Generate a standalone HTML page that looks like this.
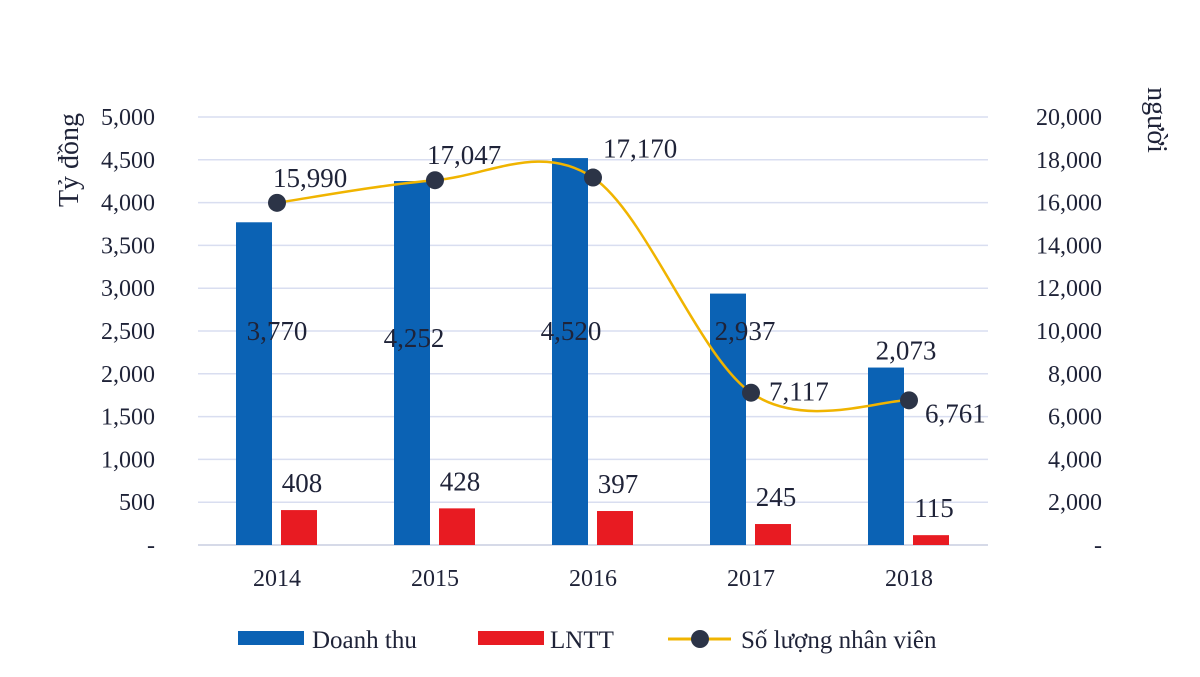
<!DOCTYPE html>
<html><head><meta charset="utf-8"><style>
body{margin:0;background:#fff;}
svg text{font-family:"Liberation Serif",serif;fill:#1f2338;}
</style></head><body>
<svg width="1200" height="672" viewBox="0 0 1200 672">
<g id="grid"></g><g id="bars"></g><g id="line"></g><g id="labels"></g>
<text transform="translate(78,160) rotate(-90)" text-anchor="middle" font-size="28">Tỷ đồng</text>
<text transform="translate(1148,120) rotate(90)" text-anchor="middle" font-size="28">người</text>
<g>
<rect x="238" y="631" width="66" height="14" fill="#0b62b4"/>
<text x="312" y="648" font-size="25">Doanh thu</text>
<rect x="478" y="631" width="66" height="14" fill="#e81b22"/>
<text x="550" y="648" font-size="25">LNTT</text>
<line x1="668" y1="639" x2="731" y2="639" stroke="#f0b400" stroke-width="3"/>
<circle cx="700" cy="639" r="9" fill="#2c3447"/>
<text x="741" y="648" font-size="25">Số lượng nhân viên</text>
</g>
</svg>
<script>
const years=["2014","2015","2016","2017","2018"];
const revenue=[3770,4252,4520,2937,2073];
const profit=[408,428,397,245,115];
const staff=[15990,17047,17170,7117,6761];
const leftTicks=[0,500,1000,1500,2000,2500,3000,3500,4000,4500,5000];
const rightTicks=[0,2000,4000,6000,8000,10000,12000,14000,16000,18000,20000];
const NS="http://www.w3.org/2000/svg";
const base=545, yTop=117, x0=198, step=158;
const yL=v=>base-(v/5000)*(base-yTop);
const yR=v=>base-(v/20000)*(base-yTop);
const cx=i=>x0+step*i+step/2;
function mk(tag,attrs,parent,txt){const e=document.createElementNS(NS,tag);for(const k in attrs)e.setAttribute(k,attrs[k]);if(txt!==undefined)e.textContent=txt;document.getElementById(parent).appendChild(e);return e;}
const fmt=v=>v===0?"-":v.toLocaleString("en-US");
leftTicks.forEach(t=>{
 const g=mk("line",{x1:x0,x2:x0+step*5,y1:yL(t),y2:yL(t),stroke:t===0?"#c8cde0":"#d9def0","stroke-width":1.5},"grid");
 
 
 const l=mk("text",{x:155,y:yL(t)+8,"text-anchor":"end","font-size":24},"grid",fmt(t));
 
 
});
rightTicks.forEach(t=>{
 const l=mk("text",{x:1102,y:yR(t)+8,"text-anchor":"end","font-size":24},"grid",fmt(t));
 
 
});
// label placement offsets (layout only)
const revDx=[0,-21,-22,-6,-3];
const revY=[340,347,340,340,null];
const staffDx=[-4,-8,10,18,16];
const staffDy=[-16,-16,-20,8,22];
years.forEach((y,i)=>{
 const c=cx(i);
 const b=mk("rect",{x:c-41,y:yL(revenue[i]),width:36,height:base-yL(revenue[i]),fill:"#0b62b4"},"bars");
 
 
 const r=mk("rect",{x:c+4,y:yL(profit[i]),width:36,height:base-yL(profit[i]),fill:"#e81b22"},"bars");
 
 
 const xl=mk("text",{x:c,y:586,"text-anchor":"middle","font-size":24},"labels",y);
 
 
 const ry=revY[i]===null?yL(revenue[i])-8:revY[i];
 const rl=mk("text",{x:c+revDx[i],y:ry,"text-anchor":"middle","font-size":27},"labels",fmt(revenue[i]));
 
 
 const pl=mk("text",{x:c+25,y:yL(profit[i])-18,"text-anchor":"middle","font-size":27},"labels",fmt(profit[i]));
 
 
});
const pts=staff.map((v,i)=>[cx(i),yR(v)]);
let d="M"+pts[0][0]+","+pts[0][1];
for(let i=0;i<pts.length-1;i++){
 const p0=pts[Math.max(i-1,0)],p1=pts[i],p2=pts[i+1],p3=pts[Math.min(i+2,pts.length-1)];
 const t=1/6;
 d+=` C${p1[0]+(p2[0]-p0[0])*t},${p1[1]+(p2[1]-p0[1])*t} ${p2[0]-(p3[0]-p1[0])*t},${p2[1]-(p3[1]-p1[1])*t} ${p2[0]},${p2[1]}`;
}
const ln=mk("path",{d:d,fill:"none",stroke:"#f0b400","stroke-width":2.5},"line");


pts.forEach((p,i)=>{
 const c=mk("circle",{cx:p[0],cy:p[1],r:9,fill:"#2c3447"},"line");
 
 
 const l=mk("text",{x:p[0]+staffDx[i],y:p[1]+staffDy[i],"font-size":27},"labels",fmt(staff[i]));
 
 
});
</script>
</body></html>
